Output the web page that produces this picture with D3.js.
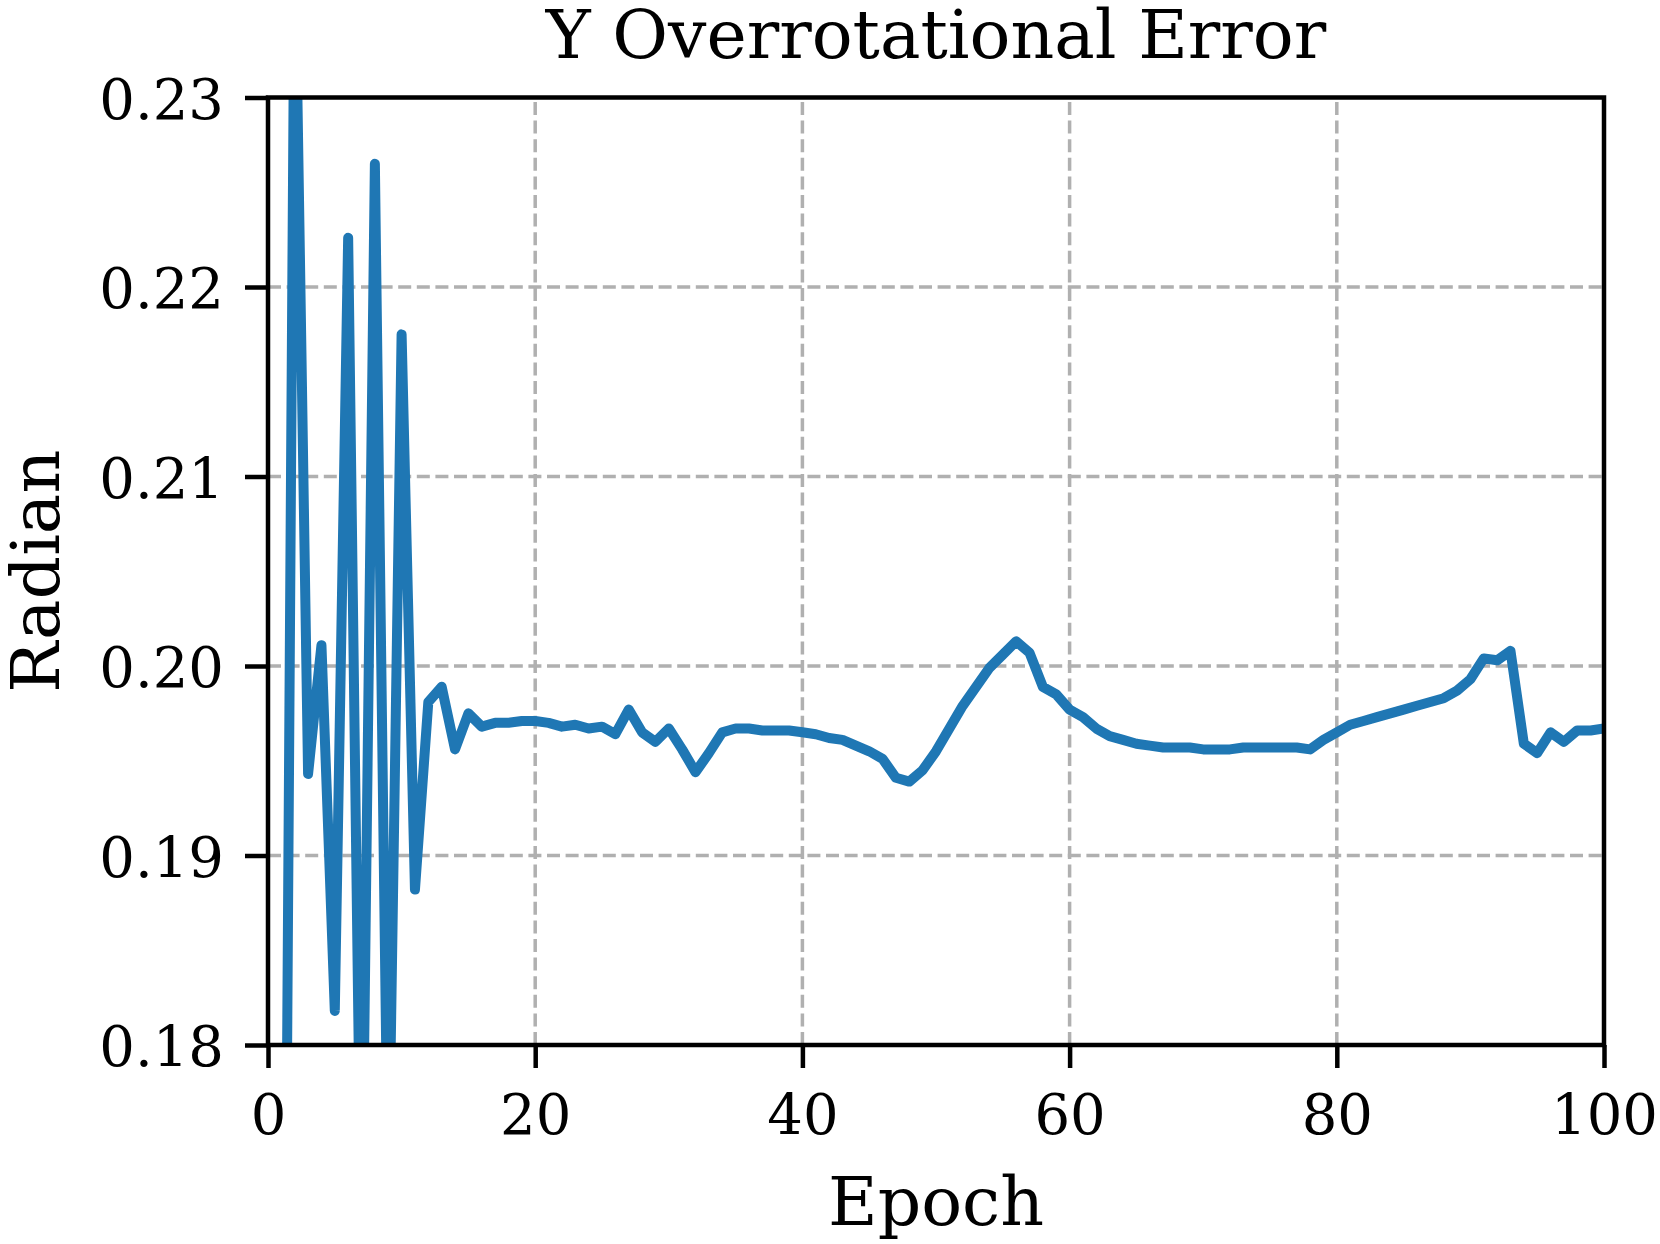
<!DOCTYPE html>
<html>
<head>
<meta charset="utf-8">
<script src="https://cdn.jsdelivr.net/npm/d3@7"></script>
<style>
  body { margin: 0; background: #fff; }
  svg { display: block; }
  text { font-family: "DejaVu Serif", serif; fill: #000; }
</style>
</head>
<body>
<div id="chart"></div>
<script>
// data (epoch 1..100)
var errorY = [
  0.135, 0.239, 0.1943, 0.2011, 0.1818, 0.2226, 0.1685, 0.2265, 0.1714, 0.2175,
  0.1882, 0.1981, 0.1989, 0.1956, 0.1975, 0.1968, 0.1970, 0.1970, 0.1971, 0.1971,
  0.1970, 0.1968, 0.1969, 0.1967, 0.1968, 0.1964, 0.1977, 0.1965, 0.1960, 0.1967,
  0.1956, 0.1944, 0.1954, 0.1965, 0.1967, 0.1967, 0.1966, 0.1966, 0.1966, 0.1965,
  0.1964, 0.1962, 0.1961, 0.1958, 0.1955, 0.1951, 0.1941, 0.1939, 0.1945, 0.1955,
  0.1967, 0.1979, 0.1989, 0.1999, 0.2006, 0.2013, 0.2007, 0.1989, 0.1985, 0.1977,
  0.1973, 0.1967, 0.1963, 0.1961, 0.1959, 0.1958, 0.1957, 0.1957, 0.1957, 0.1956,
  0.1956, 0.1956, 0.1957, 0.1957, 0.1957, 0.1957, 0.1957, 0.1956, 0.1961, 0.1965,
  0.1969, 0.1971, 0.1973, 0.1975, 0.1977, 0.1979, 0.1981, 0.1983, 0.1987, 0.1993,
  0.2004, 0.2003, 0.2008, 0.1959, 0.1954, 0.1965, 0.1960, 0.1966, 0.1966, 0.1967
];
var xTicks = [0, 20, 40, 60, 80, 100];
var yTicks = [0.18, 0.19, 0.20, 0.21, 0.22, 0.23];
var xDomain = [0, 100];
var yDomain = [0.18, 0.23];

const width = 1660;
const height = 1244;
const margin = {left: 268, right: 56, top: 97.5, bottom: 199};
const plotW = width - margin.left - margin.right;
const plotH = height - margin.top - margin.bottom;

const svg = d3.select("#chart")
    .append("svg")
    .attr("width", width)
    .attr("height", height);

const x = d3.scaleLinear().domain(xDomain).range([0, plotW]);
const y = d3.scaleLinear().domain(yDomain).range([plotH, 0]);

const g = svg.append("g")
    .attr("transform", "translate(" + margin.left + "," + margin.top + ")");

g.append("defs").append("clipPath")
    .attr("id", "plotclip")
    .append("rect")
    .attr("width", plotW)
    .attr("height", plotH);

// grid
var gridStyle = function(sel) {
    sel.attr("stroke", "#b0b0b0")
       .attr("stroke-width", 3.5)
       .attr("stroke-dasharray", "13,5.6")
       .attr("fill", "none");
};
g.append("g").selectAll("line")
    .data(xTicks.slice(1, -1))
    .enter().append("line")
    .attr("x1", d => x(d)).attr("x2", d => x(d))
    .attr("y1", plotH).attr("y2", 0)
    .call(gridStyle);
g.append("g").selectAll("line")
    .data(yTicks.slice(1, -1))
    .enter().append("line")
    .attr("x1", 0).attr("x2", plotW)
    .attr("y1", d => y(d)).attr("y2", d => y(d))
    .call(gridStyle);

// the line
const line = d3.line()
    .x((d, i) => x(i + 1))
    .y(d => y(d));

g.append("path")
    .datum(errorY)
    .attr("clip-path", "url(#plotclip)")
    .attr("d", line)
    .attr("fill", "none")
    .attr("stroke", "#1f77b4")
    .attr("stroke-width", 10)
    .attr("stroke-linejoin", "round");

// spines
g.append("rect")
    .attr("width", plotW)
    .attr("height", plotH)
    .attr("fill", "none")
    .attr("stroke", "#000")
    .attr("stroke-width", 4.5);

// axes
const xAxis = g.append("g")
    .attr("transform", "translate(0," + plotH + ")")
    .call(d3.axisBottom(x).tickValues(xTicks).tickSize(23).tickPadding(26));
const yAxis = g.append("g")
    .call(d3.axisLeft(y).tickValues(yTicks).tickFormat(d3.format(".2f")).tickSize(23).tickPadding(21));

[xAxis, yAxis].forEach(function(a) {
    a.select(".domain").remove();
    a.selectAll(".tick line").attr("stroke", "#000").attr("stroke-width", 4.5);
    a.selectAll(".tick text")
        .style("font-family", "DejaVu Serif")
        .style("font-size", "56px")
        .attr("fill", "#000");
});
yAxis.selectAll(".tick text").attr("dy", "0.37em");

// title and labels
svg.append("text")
    .attr("x", margin.left + plotW / 2)
    .attr("y", 58)
    .attr("text-anchor", "middle")
    .style("font-size", "68px")
    .text("Y Overrotational Error");

svg.append("text")
    .attr("x", margin.left + plotW / 2)
    .attr("y", 1225)
    .attr("text-anchor", "middle")
    .style("font-size", "68px")
    .text("Epoch");

svg.append("text")
    .attr("transform", "translate(59," + (margin.top + plotH / 2) + ") rotate(-90)")
    .attr("text-anchor", "middle")
    .style("font-size", "68px")
    .text("Radian");
</script>
</body>
</html>
